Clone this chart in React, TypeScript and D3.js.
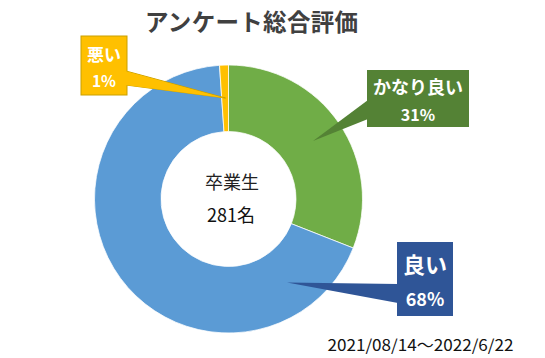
import React from "react";
import * as d3 from "d3";

const categories = ["かなり良い", "良い", "悪い"];
const counts = [87, 191, 3];
const percentLabels = ["31%", "68%", "1%"];
const sliceColors = ["#70AD47", "#5B9BD5", "#FFC000"];
const boxColors = ["#548235", "#2F5597", "#FFC000"];
const titleText = "アンケート総合評価";
const centerLines = ["卒業生", "281名"];
const dateText = "2021/08/14～2022/6/22";

const W = 545;
const H = 358;
const cx = 228.5;
const cy = 199;
const R = 134;
const r = 67.5;

const jp = "'Noto Sans CJK JP', 'Noto Sans', sans-serif";

export default function App() {
  const pie = d3.pie<number>().sort(null).value((d) => d)(counts);
  const arc = d3.arc<d3.PieArcDatum<number>>().innerRadius(r).outerRadius(R);

  const callouts = [
    { box: [367, 70, 102, 57], side: "left", base: [100, 119], tip: [313, 141], t1: { y: 94, fs: 18 }, t2: { y: 121, fs: 16 } },
    { box: [397, 242, 56, 74], side: "left", base: [284, 303], tip: [287, 282.5], t1: { y: 272.5, fs: 22 }, t2: { y: 306, fs: 18 } },
    { box: [81, 36, 46, 59], side: "right", base: [71, 85], tip: [225.5, 98], t1: { y: 60.5, fs: 17 }, t2: { y: 87.3, fs: 15.5 } },
  ];

  return (
    <svg width={W} height={H} style={{ display: "block", position: "absolute", left: 0, top: 0 }}>
      <rect width={W} height={H} fill="#fff" />
      <text x={251.5} y={30.5} textAnchor="middle" fontFamily={jp} fontWeight="bold" fontSize={23.5} fill="#404040" textLength={213} lengthAdjust="spacing">
        {titleText}
      </text>
      <g transform={`translate(${cx},${cy})`}>
        {pie.map((p, i) => (
          <path key={i} d={arc(p) || ""} fill={sliceColors[i]} stroke="#fff" strokeWidth={0.75} />
        ))}
      </g>
      <text x={232} y={189} textAnchor="middle" fontFamily={jp} fontSize={18} fill="#222">
        {centerLines[0]}
      </text>
      <text x={231} y={221.5} textAnchor="middle" fontFamily={jp} fontSize={18} fill="#111">
        {centerLines[1]}
      </text>
      {callouts.map((c, i) => {
        const [bx, by, bw, bh] = c.box;
        const sx = c.side === "left" ? bx + 1 : bx + bw - 1;
        const pts = `${sx},${c.base[0]} ${c.tip[0]},${c.tip[1]} ${sx},${c.base[1]}`;
        const isYellow = i === 2;
        const stroke = isYellow ? "#C9A000" : "none";
        const midx = bx + bw / 2;
        return (
          <g key={i}>
            <polygon points={pts} fill={boxColors[i]} stroke={stroke} strokeWidth={isYellow ? 1 : 0} />
            <rect x={bx} y={by} width={bw} height={bh} fill={boxColors[i]} stroke={stroke} strokeWidth={isYellow ? 1 : 0} />
            {isYellow && <polygon points={pts} fill={boxColors[i]} transform="translate(-1,0)" />}
            <text x={midx} y={c.t1.y} textAnchor="middle" fontFamily={jp} fontWeight="bold" fontSize={c.t1.fs} fill="#fff">
              {categories[i]}
            </text>
            <text x={midx} y={c.t2.y} textAnchor="middle" fontFamily={jp} fontWeight="bold" fontSize={c.t2.fs} fill="#fff">
              {percentLabels[i]}
            </text>
          </g>
        );
      })}
      <text x={327.5} y={350.5} fontFamily={jp} fontSize={16} fill="#111" textLength={186} lengthAdjust="spacingAndGlyphs">
        {dateText}
      </text>
    </svg>
  );
}
